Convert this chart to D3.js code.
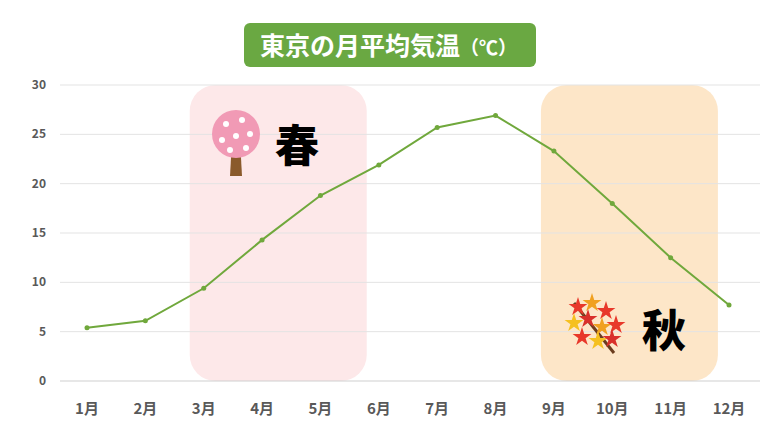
<!DOCTYPE html><html><head><meta charset="utf-8"><script src="https://cdn.jsdelivr.net/npm/d3@7"></script>
<style>body{margin:0;background:#fff}</style></head><body><svg id="c" width="780" height="438"></svg><script>
const months=["1月","2月","3月","4月","5月","6月","7月","8月","9月","10月","11月","12月"];
const temps=[5.4,6.1,9.4,14.3,18.8,21.9,25.7,26.9,23.3,18.0,12.5,7.7];
const yTicks=[0,5,10,15,20,25,30];
const svg=d3.select("#c");
const x=d3.scalePoint().domain(months).range([87,729]);
const y=d3.scaleLinear().domain([0,30]).range([381,85]);
svg.append("rect").attr("x",x("3月")-14).attr("width",177).attr("y",85).attr("height",296).attr("rx",26).attr("fill","#fde8e9");
svg.append("rect").attr("x",x("9月")-13).attr("width",177).attr("y",85).attr("height",296).attr("rx",26).attr("fill","#fde6c8");
svg.selectAll(".g").data(yTicks).enter().append("line").attr("x1",60).attr("x2",760).attr("y1",d=>y(d)).attr("y2",d=>y(d)).attr("stroke",d=>d===0?"#cfcfcf":"#e3e3e3");
svg.selectAll(".yt").data(yTicks).enter().append("text").attr("x",46).attr("y",d=>y(d)+4).attr("text-anchor","end").attr("font-family","Noto Sans CJK JP").attr("font-size",12).attr("font-weight","bold").attr("fill","#595959").text(d=>d);
svg.selectAll(".xt").data(months).enter().append("text").attr("x",d=>x(d)).attr("y",414).attr("text-anchor","middle").attr("font-family","Noto Sans CJK JP").attr("font-size",15).attr("font-weight","bold").attr("fill","#595959").text(d=>d);
svg.append("path").datum(temps).attr("d",d3.line().x((d,i)=>x(months[i])).y(d=>y(d))).attr("fill","none").attr("stroke","#70a83c").attr("stroke-width",2);
svg.selectAll(".p").data(temps).enter().append("circle").attr("cx",(d,i)=>x(months[i])).attr("cy",d=>y(d)).attr("r",2.5).attr("fill","#70a83c");
svg.append("rect").attr("x",244).attr("y",23).attr("width",292).attr("height",44).attr("rx",6).attr("fill","#6aa842");
svg.append("text").attr("x",260).attr("y",55).attr("font-family","Noto Sans CJK JP").attr("font-size",25).attr("font-weight","bold").attr("fill","#fff").text("東京の月平均気温").append("tspan").attr("font-size",19).text("（℃）");
const t=svg.append("g").attr("transform","translate(236,140)");
t.append("path").attr("d","M-4,0 L-6,36 L6,36 L4,0 Z").attr("fill","#8a5a2b");
t.append("circle").attr("r",24).attr("cy",-6).attr("fill","#f19ab5");
[[-10,-16],[6,-20],[14,-6],[-14,0],[0,-4],[10,8],[-6,10]].forEach(p=>t.append("circle").attr("cx",p[0]).attr("cy",p[1]).attr("r",3).attr("fill","#fff"));
svg.append("text").attr("x",297).attr("y",162).attr("text-anchor","middle").attr("font-family","Noto Sans CJK JP").attr("font-size",44).attr("font-weight","900").text("春");
const a=svg.append("g").attr("transform","translate(596,325)");
a.append("line").attr("x1",-22).attr("y1",-22).attr("x2",18).attr("y2",28).attr("stroke","#6b3d1e").attr("stroke-width",3);
[[-18,-18,"#e8382a"],[-4,-22,"#f0a020"],[10,-14,"#e8382a"],[-22,-2,"#f5c020"],[-8,-6,"#d9302a"],[6,2,"#f0a020"],[20,0,"#e8382a"],[-14,12,"#e8382a"],[2,16,"#f5c020"],[16,14,"#d9302a"]].forEach(p=>a.append("path").attr("d",d3.symbol(d3.symbolStar,110)()).attr("transform",`translate(${p[0]},${p[1]})`).attr("fill",p[2]));
svg.append("text").attr("x",664).attr("y",347).attr("text-anchor","middle").attr("font-family","Noto Sans CJK JP").attr("font-size",44).attr("font-weight","900").text("秋");
</script></body></html>
